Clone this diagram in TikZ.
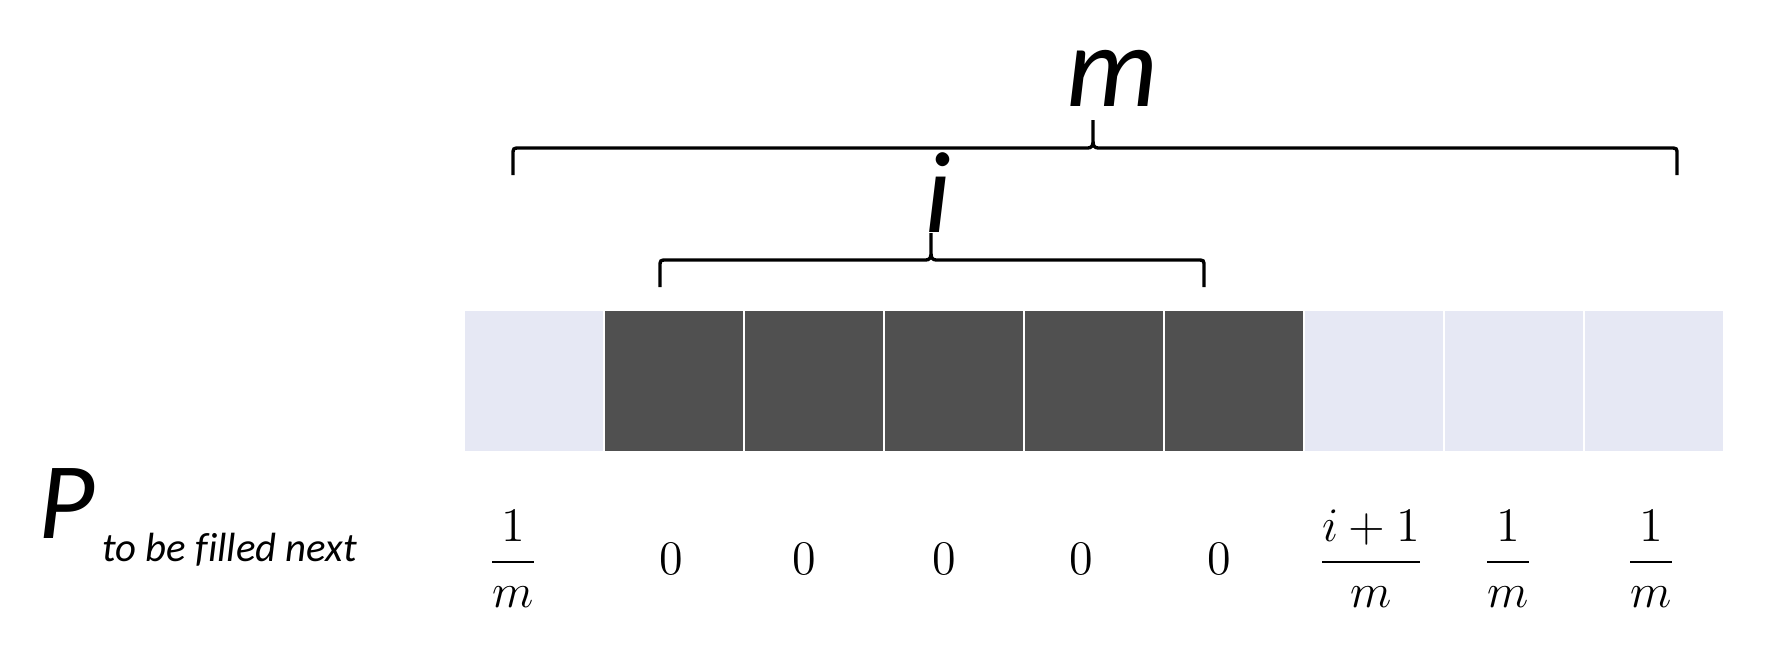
\RequirePackage{fix-cm}
\documentclass[tikz,border=0pt]{standalone}
\usepackage{fontspec}
\usepackage{xcolor}
\usepackage{tikz}
\newfontfamily\carlito[Ligatures=NoCommon]{Carlito}
\definecolor{celdaclara}{HTML}{E6E8F4}
\definecolor{celdaoscura}{HTML}{505050}

\begin{document}
\begin{tikzpicture}[x=0.01cm, y=-0.01cm]
      % Definición de estilos
      \tikzstyle{clara}=[fill=celdaclara, inner sep=0, minimum width=1.38cm, minimum height=1.4cm]
      \tikzstyle{oscura}=[fill=celdaoscura, inner sep=0, minimum width=1.38cm, minimum height=1.4cm]
      \tikzstyle{prob}=[anchor=base, inner sep=0, font=\fontsize{13.7}{16}\selectfont]
      \tikzstyle{letra}=[anchor=base, inner sep=0, font=\carlito\itshape\fontsize{33}{36}\selectfont]
      \tikzstyle{llave}=[draw, line width=0.95pt]

      \useasboundingbox (0,0) rectangle (1786,656);

      % Celdas
      \node[clara] (c1) at (534,381) {};
      \node[oscura] (c2) at (674,381) {};
      \node[oscura] (c3) at (814,381) {};
      \node[oscura] (c4) at (954,381) {};
      \node[oscura] (c5) at (1094,381) {};
      \node[oscura] (c6) at (1234,381) {};
      \node[clara] (c7) at (1374,381) {};
      \node[clara] (c8) at (1514,381) {};
      \node[clara] (c9) at (1654,381) {};

      % Llaves
      \path[llave] (513,175) -- (513,155) .. controls (513,148) .. (520,148) -- (1086,148)
        .. controls (1093,148) and (1093,146) .. (1093,138) -- (1093,120) -- (1093,138)
        .. controls (1093,146) and (1093,148) .. (1100,148) -- (1670,148)
        .. controls (1677,148) .. (1677,155) -- (1677,175);
      \path[llave] (660,287) -- (660,267) .. controls (660,260) .. (667,260) -- (924,260)
        .. controls (931,260) and (931,258) .. (931,250) -- (931,233) -- (931,250)
        .. controls (931,258) and (931,260) .. (938,260) -- (1197,260)
        .. controls (1204,260) .. (1204,267) -- (1204,287);

      % Etiquetas de las llaves
      \node[letra] (m) at (1112,106) {m};
      \node[letra] (i) at (938,232) {i};

      % Probabilidades
      \node[anchor=base west, inner sep=0, font=\carlito\itshape\fontsize{31}{34}\selectfont] (P) at (38,538) {P};
      \node[anchor=base west, inner sep=0, font=\carlito\itshape\fontsize{11.6}{13}\selectfont] (sub) at (102,561) {to be filled next};
      \node[prob] (p1) at (513,574) {$\displaystyle\frac{1}{m}$};
      \node[prob] (p2) at (671,574) {$0$};
      \node[prob] (p3) at (804,574) {$0$};
      \node[prob] (p4) at (944,574) {$0$};
      \node[prob] (p5) at (1081,574) {$0$};
      \node[prob] (p6) at (1219,574) {$0$};
      \node[prob] (p7) at (1371,574) {$\displaystyle\frac{i+1}{m}$};
      \node[prob] (p8) at (1508,574) {$\displaystyle\frac{1}{m}$};
      \node[prob] (p9) at (1651,574) {$\displaystyle\frac{1}{m}$};
\end{tikzpicture}
\end{document}
